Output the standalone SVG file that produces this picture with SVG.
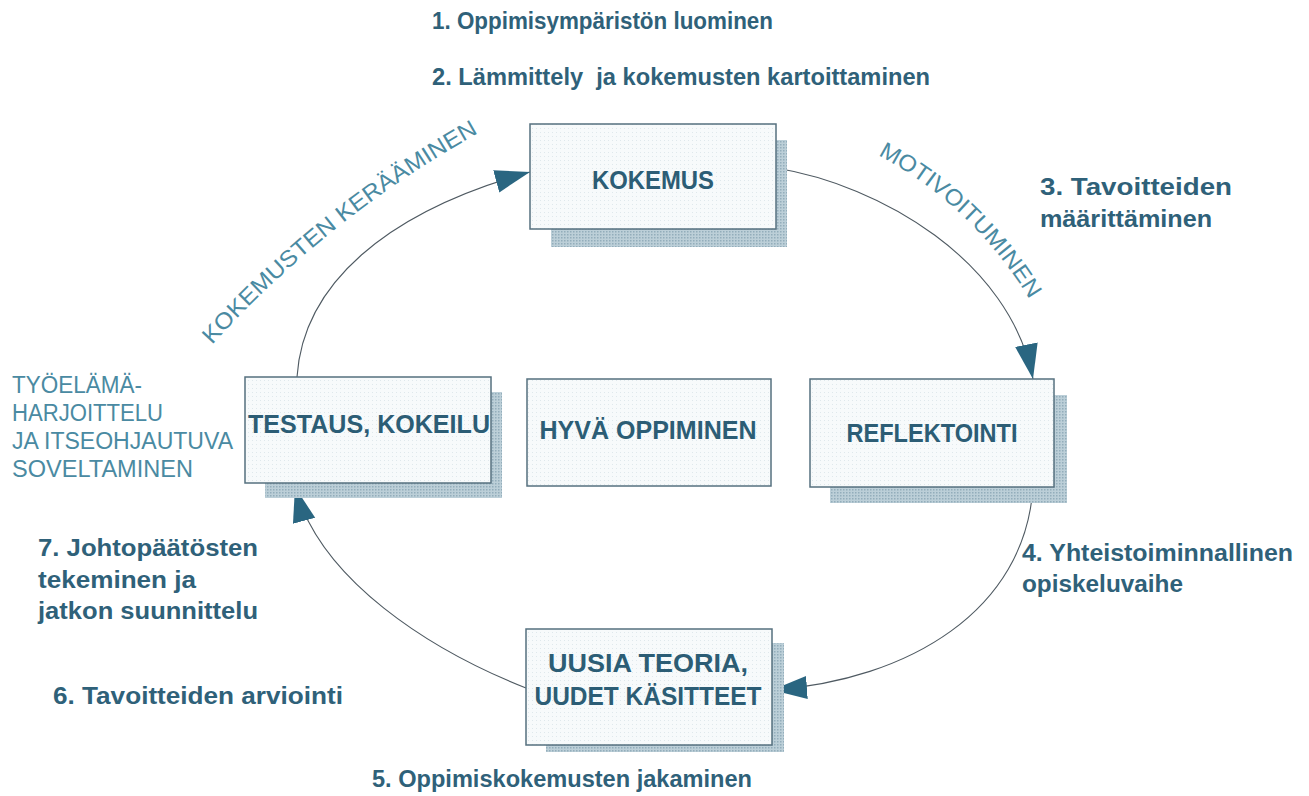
<svg xmlns="http://www.w3.org/2000/svg" width="1309" height="796" viewBox="0 0 1309 796">
  <style>
    .box { fill: url(#paper); stroke: #56707f; stroke-width: 1.5; }
    .shadow { fill: url(#screen); }
    .boxlabel { font-family: "Liberation Sans", Arial, sans-serif; font-weight: bold; font-size: 26px; fill: #2c5d75; text-anchor: middle; }
    .step { font-family: "Liberation Sans", Arial, sans-serif; font-weight: bold; font-size: 23px; fill: #2f6179; }
    .phase { font-family: "Liberation Sans", Arial, sans-serif; font-size: 23px; fill: #4a8aa2; }
    .flow { fill: none; stroke: #4f5a62; stroke-width: 1.1; marker-end: url(#head); }
  </style>
  <defs>
    <!-- faint dot grid of the box paper -->
    <pattern id="paper" width="4" height="4" patternUnits="userSpaceOnUse">
      <rect width="4" height="4" fill="#f7fafb"/>
      <rect x="0" y="0" width="1" height="1" fill="#dfe8ec"/>
    </pattern>
    <!-- halftone screen of the drop shadows -->
    <pattern id="screen" width="3" height="3" patternUnits="userSpaceOnUse">
      <rect width="3" height="3" fill="#bccfd8"/>
      <rect x="0" y="0" width="1.5" height="1.5" fill="#93adbb"/>
    </pattern>
    <marker id="head" markerUnits="userSpaceOnUse" markerWidth="40" markerHeight="26" refX="35" refY="11.5" orient="auto">
      <path d="M0,0 L35,11.5 L0,23 Z" fill="#2a6681"/>
    </marker>
  </defs>

  <rect width="1309" height="796" fill="#ffffff"/>

  <!-- cycle connectors -->
  <g id="connectors">
    <path class="flow" d="M297,377 C303,285 385,212 530,172"/>
    <path class="flow" d="M776,168 C880,185 1010,260 1033,379"/>
    <path class="flow" d="M1033,487 C1025,610 910,680 772,690"/>
    <path class="flow" d="M526,688 C430,650 320,580 295,487"/>
  </g>

  <!-- phase labels along the arcs -->
  <g id="phase-labels">
    <path id="p-kerays" d="M212,345 Q330,215 484,130" fill="none"/>
    <text class="phase"><textPath href="#p-kerays" textLength="342" lengthAdjust="spacingAndGlyphs">KOKEMUSTEN KERÄÄMINEN</textPath></text>
    <path id="p-motiv" d="M878,155 Q972,205 1030,300" fill="none"/>
    <text class="phase"><textPath href="#p-motiv" textLength="212" lengthAdjust="spacingAndGlyphs">MOTIVOITUMINEN</textPath></text>
  </g>

  <g id="kokemus">
    <rect class="shadow" x="551" y="140" width="236" height="107"/>
    <rect class="box" x="530" y="124" width="246" height="105"/>
    <text class="boxlabel" x="653" y="189" textLength="122" lengthAdjust="spacingAndGlyphs">KOKEMUS</text>
  </g>

  <g id="reflektointi">
    <rect class="shadow" x="830" y="395" width="237" height="108"/>
    <rect class="box" x="810" y="379" width="244" height="108"/>
    <text class="boxlabel" x="932" y="442" textLength="171" lengthAdjust="spacingAndGlyphs">REFLEKTOINTI</text>
  </g>

  <g id="uusia-teoria">
    <rect class="shadow" x="546" y="643" width="238" height="109"/>
    <rect class="box" x="526" y="629" width="246" height="116"/>
    <text class="boxlabel" x="648" y="672" textLength="200" lengthAdjust="spacingAndGlyphs">UUSIA TEORIA,</text>
    <text class="boxlabel" x="648" y="705" textLength="227" lengthAdjust="spacingAndGlyphs">UUDET KÄSITTEET</text>
  </g>

  <g id="testaus">
    <rect class="shadow" x="265" y="392" width="237" height="106"/>
    <rect class="box" x="245" y="377" width="246" height="106"/>
    <text class="boxlabel" x="369" y="433" textLength="242" lengthAdjust="spacingAndGlyphs">TESTAUS, KOKEILU</text>
  </g>

  <g id="hyva-oppiminen">
    <rect class="box" x="527" y="379" width="244" height="107"/>
    <text class="boxlabel" x="648" y="439" textLength="217" lengthAdjust="spacingAndGlyphs">HYVÄ OPPIMINEN</text>
  </g>

  <!-- numbered steps -->
  <g id="step-1">
    <text class="step" x="432" y="29" textLength="341" lengthAdjust="spacingAndGlyphs">1. Oppimisympäristön luominen</text>
  </g>
  <g id="step-2">
    <text class="step" x="432" y="85" textLength="498" lengthAdjust="spacingAndGlyphs" xml:space="preserve">2. Lämmittely  ja kokemusten kartoittaminen</text>
  </g>
  <g id="step-3">
    <text class="step" x="1040" y="195" textLength="192" lengthAdjust="spacingAndGlyphs">3. Tavoitteiden</text>
    <text class="step" x="1040" y="227" textLength="172" lengthAdjust="spacingAndGlyphs">määrittäminen</text>
  </g>
  <g id="step-4">
    <text class="step" x="1022" y="561" textLength="271" lengthAdjust="spacingAndGlyphs">4. Yhteistoiminnallinen</text>
    <text class="step" x="1022" y="592" textLength="161" lengthAdjust="spacingAndGlyphs">opiskeluvaihe</text>
  </g>
  <g id="step-5">
    <text class="step" x="372" y="787" textLength="380" lengthAdjust="spacingAndGlyphs">5. Oppimiskokemusten jakaminen</text>
  </g>
  <g id="step-6">
    <text class="step" x="53" y="704" textLength="290" lengthAdjust="spacingAndGlyphs">6. Tavoitteiden arviointi</text>
  </g>
  <g id="step-7">
    <text class="step" x="38" y="556" textLength="220" lengthAdjust="spacingAndGlyphs">7. Johtopäätösten</text>
    <text class="step" x="38" y="588" textLength="158" lengthAdjust="spacingAndGlyphs">tekeminen ja</text>
    <text class="step" x="38" y="619" textLength="220" lengthAdjust="spacingAndGlyphs">jatkon suunnittelu</text>
  </g>

  <g id="tyoelama">
    <text class="phase" x="12" y="393" textLength="130" lengthAdjust="spacingAndGlyphs">TYÖELÄMÄ-</text>
    <text class="phase" x="12" y="421" textLength="151" lengthAdjust="spacingAndGlyphs">HARJOITTELU</text>
    <text class="phase" x="12" y="449" textLength="221" lengthAdjust="spacingAndGlyphs">JA ITSEOHJAUTUVA</text>
    <text class="phase" x="12" y="477" textLength="181" lengthAdjust="spacingAndGlyphs">SOVELTAMINEN</text>
  </g>
</svg>
